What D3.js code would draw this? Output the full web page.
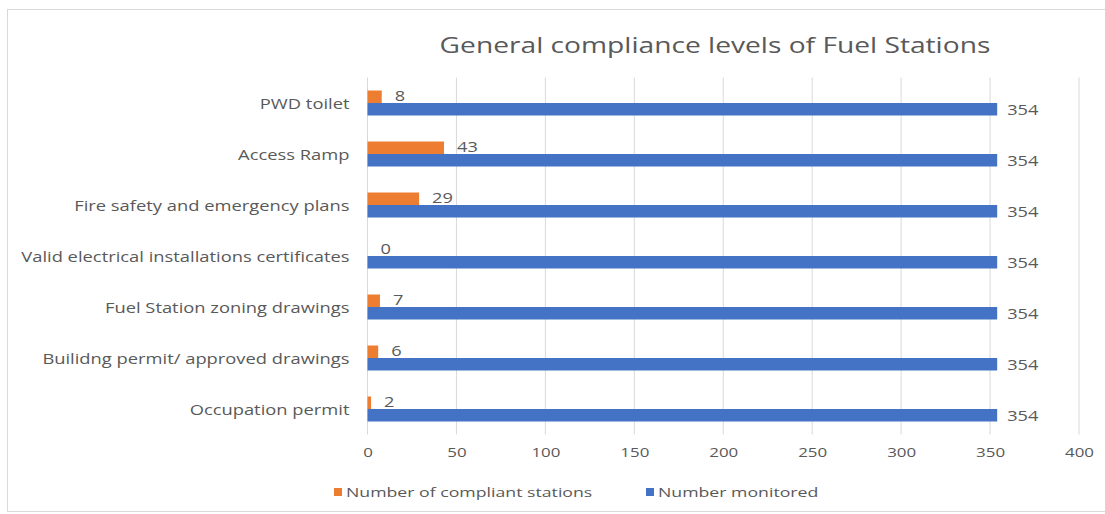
<!DOCTYPE html>
<html>
<head>
<meta charset="utf-8">
<script src="https://cdn.jsdelivr.net/npm/d3@7"></script>
<style>
  html, body { margin: 0; padding: 0; background: #fff; }
  svg { display: block; font-family: "Open Sans", sans-serif; }
</style>
</head>
<body>
<svg id="chart" width="1105" height="514"></svg>
<script>
const categories = [
  "PWD toilet",
  "Access Ramp",
  "Fire safety and emergency plans",
  "Valid electrical installations certificates",
  "Fuel Station zoning drawings",
  "Builidng permit/ approved drawings",
  "Occupation permit"
];
const compliant = [8, 43, 29, 0, 7, 6, 2];
const monitored = [354, 354, 354, 354, 354, 354, 354];
const xTicks = [0, 50, 100, 150, 200, 250, 300, 350, 400];
const seriesNames = ["Number of compliant stations", "Number monitored"];
const colors = ["#ED7D31", "#4472C4"];
const title = "General compliance levels of Fuel Stations";

const svg = d3.select("#chart");
const W = 1105, H = 514;
const plot = { left: 367.5, right: 1079, top: 77.5, bottom: 434.5 };
const textColor = "#595959";

// horizontally widen text to mimic the reference's stretched look
function widen(sel, f) {
  sel.each(function () {
    const n = this.getComputedTextLength();
    d3.select(this).attr("textLength", n * f).attr("lengthAdjust", "spacingAndGlyphs");
  });
}

// chart border
svg.append("rect")
  .attr("x", 7.5).attr("y", 9.5)
  .attr("width", W + 10).attr("height", 502)
  .attr("fill", "#fff").attr("stroke", "#D9D9D9").attr("stroke-width", 1);

const x = d3.scaleLinear().domain([0, 400]).range([plot.left, plot.right]);
const y = d3.scaleBand().domain(categories).range([plot.top, plot.bottom]).padding(0);
const barH = 12.5;

// gridlines
svg.append("g").selectAll("line").data(xTicks).join("line")
  .attr("x1", d => x(d)).attr("x2", d => x(d))
  .attr("y1", plot.top).attr("y2", plot.bottom)
  .attr("stroke", "#D9D9D9").attr("stroke-width", 1);

// x axis labels
const xAxis = d3.axisBottom(x).tickValues(xTicks).tickSize(0).tickPadding(12);
const gx = svg.append("g").attr("transform", `translate(0,${plot.bottom + 1})`).call(xAxis);
gx.select(".domain").remove();
gx.selectAll("text").attr("fill", textColor).style("font-size", "13px").style("font-family", "Open Sans, sans-serif");
widen(gx.selectAll("text"), 1.3);

// y axis labels
const yAxis = d3.axisLeft(y).tickSize(0).tickPadding(18);
const gy = svg.append("g").attr("transform", `translate(${plot.left},0)`).call(yAxis);
gy.select(".domain").remove();
gy.selectAll("text").attr("fill", textColor).style("font-size", "14px").style("font-family", "Open Sans, sans-serif").attr("dy", "0.45em");
widen(gy.selectAll("text"), 1.31);

const center = d => y(d) + y.bandwidth() / 2;

// compliant bars (top of pair)
svg.append("g").selectAll("rect").data(categories).join("rect")
  .attr("x", x(0))
  .attr("y", d => center(d) - barH)
  .attr("width", (d, i) => x(compliant[i]) - x(0))
  .attr("height", barH)
  .attr("fill", colors[0]);

// monitored bars (bottom of pair)
svg.append("g").selectAll("rect").data(categories).join("rect")
  .attr("x", x(0))
  .attr("y", d => center(d))
  .attr("width", (d, i) => x(monitored[i]) - x(0))
  .attr("height", barH)
  .attr("fill", colors[1]);

// data labels
const l1 = svg.append("g").selectAll("text").data(categories).join("text")
  .attr("x", (d, i) => x(compliant[i]) + 13)
  .attr("y", d => center(d) - barH / 2 - 1)
  .attr("dy", "0.35em")
  .attr("fill", textColor).style("font-size", "14px")
  .text((d, i) => compliant[i]);
widen(l1, 1.3);

const l2 = svg.append("g").selectAll("text").data(categories).join("text")
  .attr("x", (d, i) => x(monitored[i]) + 10)
  .attr("y", d => center(d) + barH / 2 + 1)
  .attr("dy", "0.35em")
  .attr("fill", textColor).style("font-size", "14px")
  .text((d, i) => monitored[i]);
widen(l2, 1.3);

// title
const t = svg.append("text")
  .attr("x", 715).attr("y", 45)
  .attr("text-anchor", "middle").attr("dy", "0.35em")
  .attr("fill", textColor).style("font-size", "22px")
  .text(title);
widen(t, 1.28);

// legend
const legendItems = [
  { name: seriesNames[0], color: colors[0], x: 334 },
  { name: seriesNames[1], color: colors[1], x: 646 }
];
const lg = svg.append("g");
legendItems.forEach(it => {
  lg.append("rect").attr("x", it.x).attr("y", 488).attr("width", 8).attr("height", 8).attr("fill", it.color);
  const lt = lg.append("text").attr("x", it.x + 12).attr("y", 492).attr("dy", "0.35em")
    .attr("fill", textColor).style("font-size", "13px").text(it.name);
  widen(lt, 1.36);
});
</script>
</body>
</html>
